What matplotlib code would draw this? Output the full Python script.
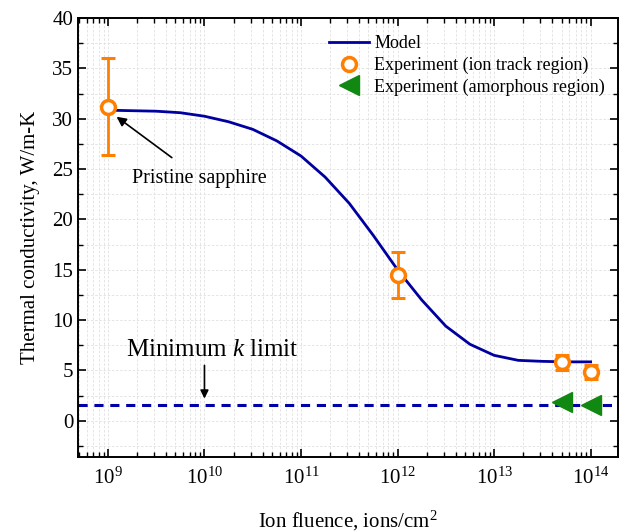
import numpy as np
import matplotlib
matplotlib.use('Agg')
import matplotlib.pyplot as plt
from matplotlib.ticker import LogLocator, MultipleLocator, NullFormatter

plt.rcParams['font.family'] = ['Liberation Serif', 'DejaVu Serif']
plt.rcParams['mathtext.fontset'] = 'custom'
plt.rcParams['mathtext.rm'] = 'Liberation Serif'
plt.rcParams['mathtext.it'] = 'Liberation Serif:italic'

# model curve
model_fluence = [1.0e9, 1.78e9, 3.16e9, 5.62e9, 1.0e10, 1.78e10, 3.16e10, 5.62e10,
                 1.0e11, 1.78e11, 3.16e11, 5.62e11, 1.0e12, 1.78e12, 3.16e12, 5.62e12,
                 1.0e13, 1.78e13, 3.16e13, 5.62e13, 1.0e14]
model_k = [30.85, 30.8, 30.75, 30.6, 30.25, 29.7, 28.95, 27.8,
           26.3, 24.2, 21.6, 18.4, 15.0, 12.0, 9.4, 7.6,
           6.5, 6.0, 5.9, 5.85, 5.85]

# experiment, ion track region
track_fluence = [1e9, 1e12, 5e13, 1e14]
track_k = [31.2, 14.5, 5.8, 4.85]
track_err = [4.8, 2.3, 0.75, 0.7]

# experiment, amorphous region
amor_fluence = [5e13, 1e14]
amor_k = [1.9, 1.6]

k_min = 1.6

orange = '#ff8000'

fig = plt.figure(figsize=(6.21, 5.32), dpi=100)
ax = fig.add_axes([0.1256, 0.141, 0.869, 0.825])

ax.set_xscale('log')
ax.set_xlim(10**8.69, 10**14.28)
ax.set_ylim(-3.6, 40)

ax.grid(True, which='both', color='#e0e0e0', linestyle='--', linewidth=0.6, dashes=(3, 2))
ax.set_axisbelow(True)

ax.axhline(k_min, color='#0000a8', linestyle='--', linewidth=2.2, dashes=(3, 2.2), zorder=2)
ax.plot(model_fluence, model_k, color='#0000a0', linewidth=2.0, label='Model', zorder=3)
ax.errorbar(track_fluence, track_k, yerr=track_err, fmt='none', ecolor=orange,
            elinewidth=2.0, capsize=5, capthick=2.2, zorder=4)
ax.plot(track_fluence, track_k, 'o', linestyle='none', mfc='white', mec=orange,
        mew=2.5, ms=10, label='Experiment (ion track region)', zorder=5)
ax.plot(amor_fluence, amor_k, '<', color='#118811', ms=14, linestyle='none',
        label='Experiment (amorphous region)', zorder=4)

ax.annotate('Pristine sapphire', xy=(1.23e9, 30.2), xytext=(8.9e9, 24.1),
            ha='center', va='center', fontsize=14.5,
            arrowprops=dict(arrowstyle='-|>', color='black', lw=1.2, shrinkA=10,
                            shrinkB=0, mutation_scale=14))
ax.text(1.2e10, 7.05, 'Minimum $k$ limit', ha='center', va='center', fontsize=18)
ax.annotate('', xy=(1e10, 2.2), xytext=(1e10, 5.5),
            arrowprops=dict(arrowstyle='-|>', color='black', lw=1.2, shrinkA=0,
                            shrinkB=0, mutation_scale=12))

ax.xaxis.set_major_locator(LogLocator(base=10, numticks=20))
ax.xaxis.set_minor_locator(LogLocator(base=10, subs=np.arange(2, 10), numticks=20))
ax.xaxis.set_minor_formatter(NullFormatter())
ax.yaxis.set_major_locator(MultipleLocator(5))
ax.yaxis.set_minor_locator(MultipleLocator(2.5))

ax.tick_params(which='both', direction='in', top=True, right=True, labelsize=15)
ax.tick_params(which='major', length=6, width=1.2)
ax.tick_params(which='minor', length=3.5, width=1.0)
ax.tick_params(axis='x', pad=8)
for s in ax.spines.values():
    s.set_linewidth(1.4)

ax.set_xlabel('Ion fluence, ions/cm$^2$', fontsize=15, labelpad=14)
ax.set_ylabel('Thermal conductivity, W/m-K', fontsize=15, labelpad=9)

ax.legend(loc='upper right', frameon=False, fontsize=13, handlelength=2.2,
          handletextpad=0.3, labelspacing=0.25, borderaxespad=0.3,
          bbox_to_anchor=(1.0, 0.99))

fig.savefig('out.png', dpi=100)
